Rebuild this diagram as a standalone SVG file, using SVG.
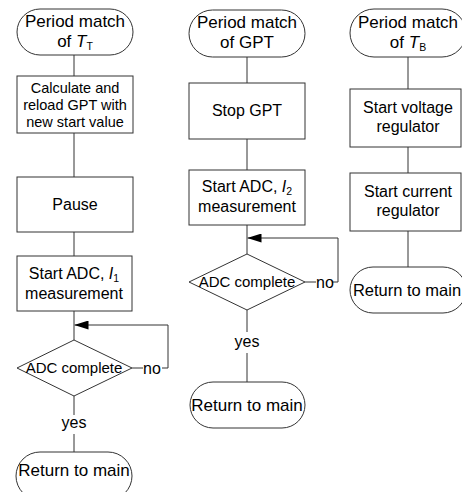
<svg xmlns="http://www.w3.org/2000/svg" width="462" height="492" viewBox="0 0 462 492">
  <defs>
    <marker id="arrow" markerWidth="14" markerHeight="9" refX="14" refY="4.5" orient="auto" markerUnits="userSpaceOnUse">
      <path d="M0,0 L14,4.5 L0,9 Z" fill="#000"/>
    </marker>
  </defs>
  <style>
    .shape { fill: #fff; stroke: #333; stroke-width: 1; }
    .line { fill: none; stroke: #333; stroke-width: 1; }
    text { font-family: "Liberation Sans", Arial, sans-serif; fill: #000; text-anchor: middle; }
    .term { font-size: 17px; }
    .box { font-size: 16px; }
    .small { font-size: 14.5px; }
    .dec { font-size: 15px; }
    .lbl { font-size: 16px; }
    .it { font-style: italic; }
    .sub { font-size: 10.5px; }
  </style>

  <rect width="462" height="492" fill="#fff"/>

  <!-- connectors -->
  <g id="connectors">
    <!-- left column -->
    <line class="line" x1="74" y1="55" x2="74" y2="76"/>
    <line class="line" x1="74" y1="133" x2="74" y2="177"/>
    <line class="line" x1="74" y1="232" x2="74" y2="256"/>
    <line class="line" x1="74" y1="311" x2="74" y2="340"/>
    <line class="line" x1="132" y1="368" x2="143" y2="368"/>
    <polyline class="line" points="162,368 168,368 168,325 74.5,325" marker-end="url(#arrow)"/>
    <line class="line" x1="74" y1="396" x2="74" y2="415"/>
    <line class="line" x1="74" y1="434" x2="74" y2="452"/>
    <text class="lbl" x="152" y="374">no</text>
    <text class="lbl" x="74" y="428">yes</text>

    <!-- middle column -->
    <line class="line" x1="247" y1="57" x2="247" y2="83"/>
    <line class="line" x1="247" y1="139" x2="247" y2="170"/>
    <line class="line" x1="247" y1="225" x2="247" y2="254"/>
    <line class="line" x1="305" y1="282" x2="316" y2="282"/>
    <polyline class="line" points="332,282 338,282 338,238 247.5,238" marker-end="url(#arrow)"/>
    <line class="line" x1="247" y1="310" x2="247" y2="332"/>
    <line class="line" x1="247" y1="353" x2="247" y2="382"/>
    <text class="lbl" x="325" y="288">no</text>
    <text class="lbl" x="247" y="347">yes</text>

    <!-- right column -->
    <line class="line" x1="408" y1="57" x2="408" y2="89"/>
    <line class="line" x1="408" y1="147" x2="408" y2="173"/>
    <line class="line" x1="408" y1="231" x2="408" y2="267"/>
  </g>

  <!-- left column: period match of T_T -->
  <g id="start-tt">
    <rect class="shape" x="17" y="9" width="116" height="46" rx="23"/>
    <text class="term" x="75" y="27">Period match</text>
    <text class="term" x="75" y="47">of <tspan class="it">T</tspan><tspan class="sub" dy="3">T</tspan></text>
  </g>
  <g id="reload-gpt">
    <rect class="shape" x="17" y="76" width="116" height="57"/>
    <text class="small" x="75" y="93">Calculate and</text>
    <text class="small" x="75" y="110">reload GPT with</text>
    <text class="small" x="75" y="127">new start value</text>
  </g>
  <g id="pause">
    <rect class="shape" x="17" y="177" width="116" height="55"/>
    <text class="box" x="75" y="210">Pause</text>
  </g>
  <g id="adc-i1">
    <rect class="shape" x="17" y="256" width="115" height="55"/>
    <text class="box" x="74" y="279">Start ADC,  <tspan class="it">I</tspan><tspan class="sub" dy="3">1</tspan></text>
    <text class="box" x="74" y="299">measurement</text>
  </g>
  <g id="adc-done-1">
    <polygon class="shape" points="74,340 132,368 74,396 17,368"/>
    <text class="dec" x="74" y="373">ADC complete</text>
  </g>
  <g id="return-1">
    <rect class="shape" x="16" y="452" width="116" height="48" rx="24"/>
    <text class="term" x="74" y="476">Return to main</text>
  </g>

  <!-- middle column: period match of GPT -->
  <g id="start-gpt">
    <rect class="shape" x="189" y="10" width="116" height="47" rx="23.5"/>
    <text class="term" x="247" y="28">Period match</text>
    <text class="term" x="247" y="48">of GPT</text>
  </g>
  <g id="stop-gpt">
    <rect class="shape" x="189" y="83" width="116" height="56"/>
    <text class="box" x="247" y="116">Stop GPT</text>
  </g>
  <g id="adc-i2">
    <rect class="shape" x="189" y="170" width="116" height="55"/>
    <text class="box" x="247" y="192">Start ADC,  <tspan class="it">I</tspan><tspan class="sub" dy="3">2</tspan></text>
    <text class="box" x="247" y="212">measurement</text>
  </g>
  <g id="adc-done-2">
    <polygon class="shape" points="247,254 305,282 247,310 189,282"/>
    <text class="dec" x="247" y="287">ADC complete</text>
  </g>
  <g id="return-2">
    <rect class="shape" x="190" y="382" width="115" height="46" rx="23"/>
    <text class="term" x="247" y="411">Return to main</text>
  </g>

  <!-- right column: period match of T_B -->
  <g id="start-tb">
    <rect class="shape" x="350" y="9" width="116" height="48" rx="24"/>
    <text class="term" x="408" y="28">Period match</text>
    <text class="term" x="408" y="48">of <tspan class="it">T</tspan><tspan class="sub" dy="3">B</tspan></text>
  </g>
  <g id="voltage-reg">
    <rect class="shape" x="350" y="89" width="111" height="58"/>
    <text class="box" x="408" y="113">Start voltage</text>
    <text class="box" x="408" y="132">regulator</text>
  </g>
  <g id="current-reg">
    <rect class="shape" x="350" y="173" width="111" height="58"/>
    <text class="box" x="408" y="197">Start current</text>
    <text class="box" x="408" y="216">regulator</text>
  </g>
  <g id="return-3">
    <rect class="shape" x="350" y="267" width="116" height="46" rx="23"/>
    <text class="term" x="407" y="296" font-size="16.5px" style="font-size:16.5px">Return to main</text>
  </g>
</svg>
